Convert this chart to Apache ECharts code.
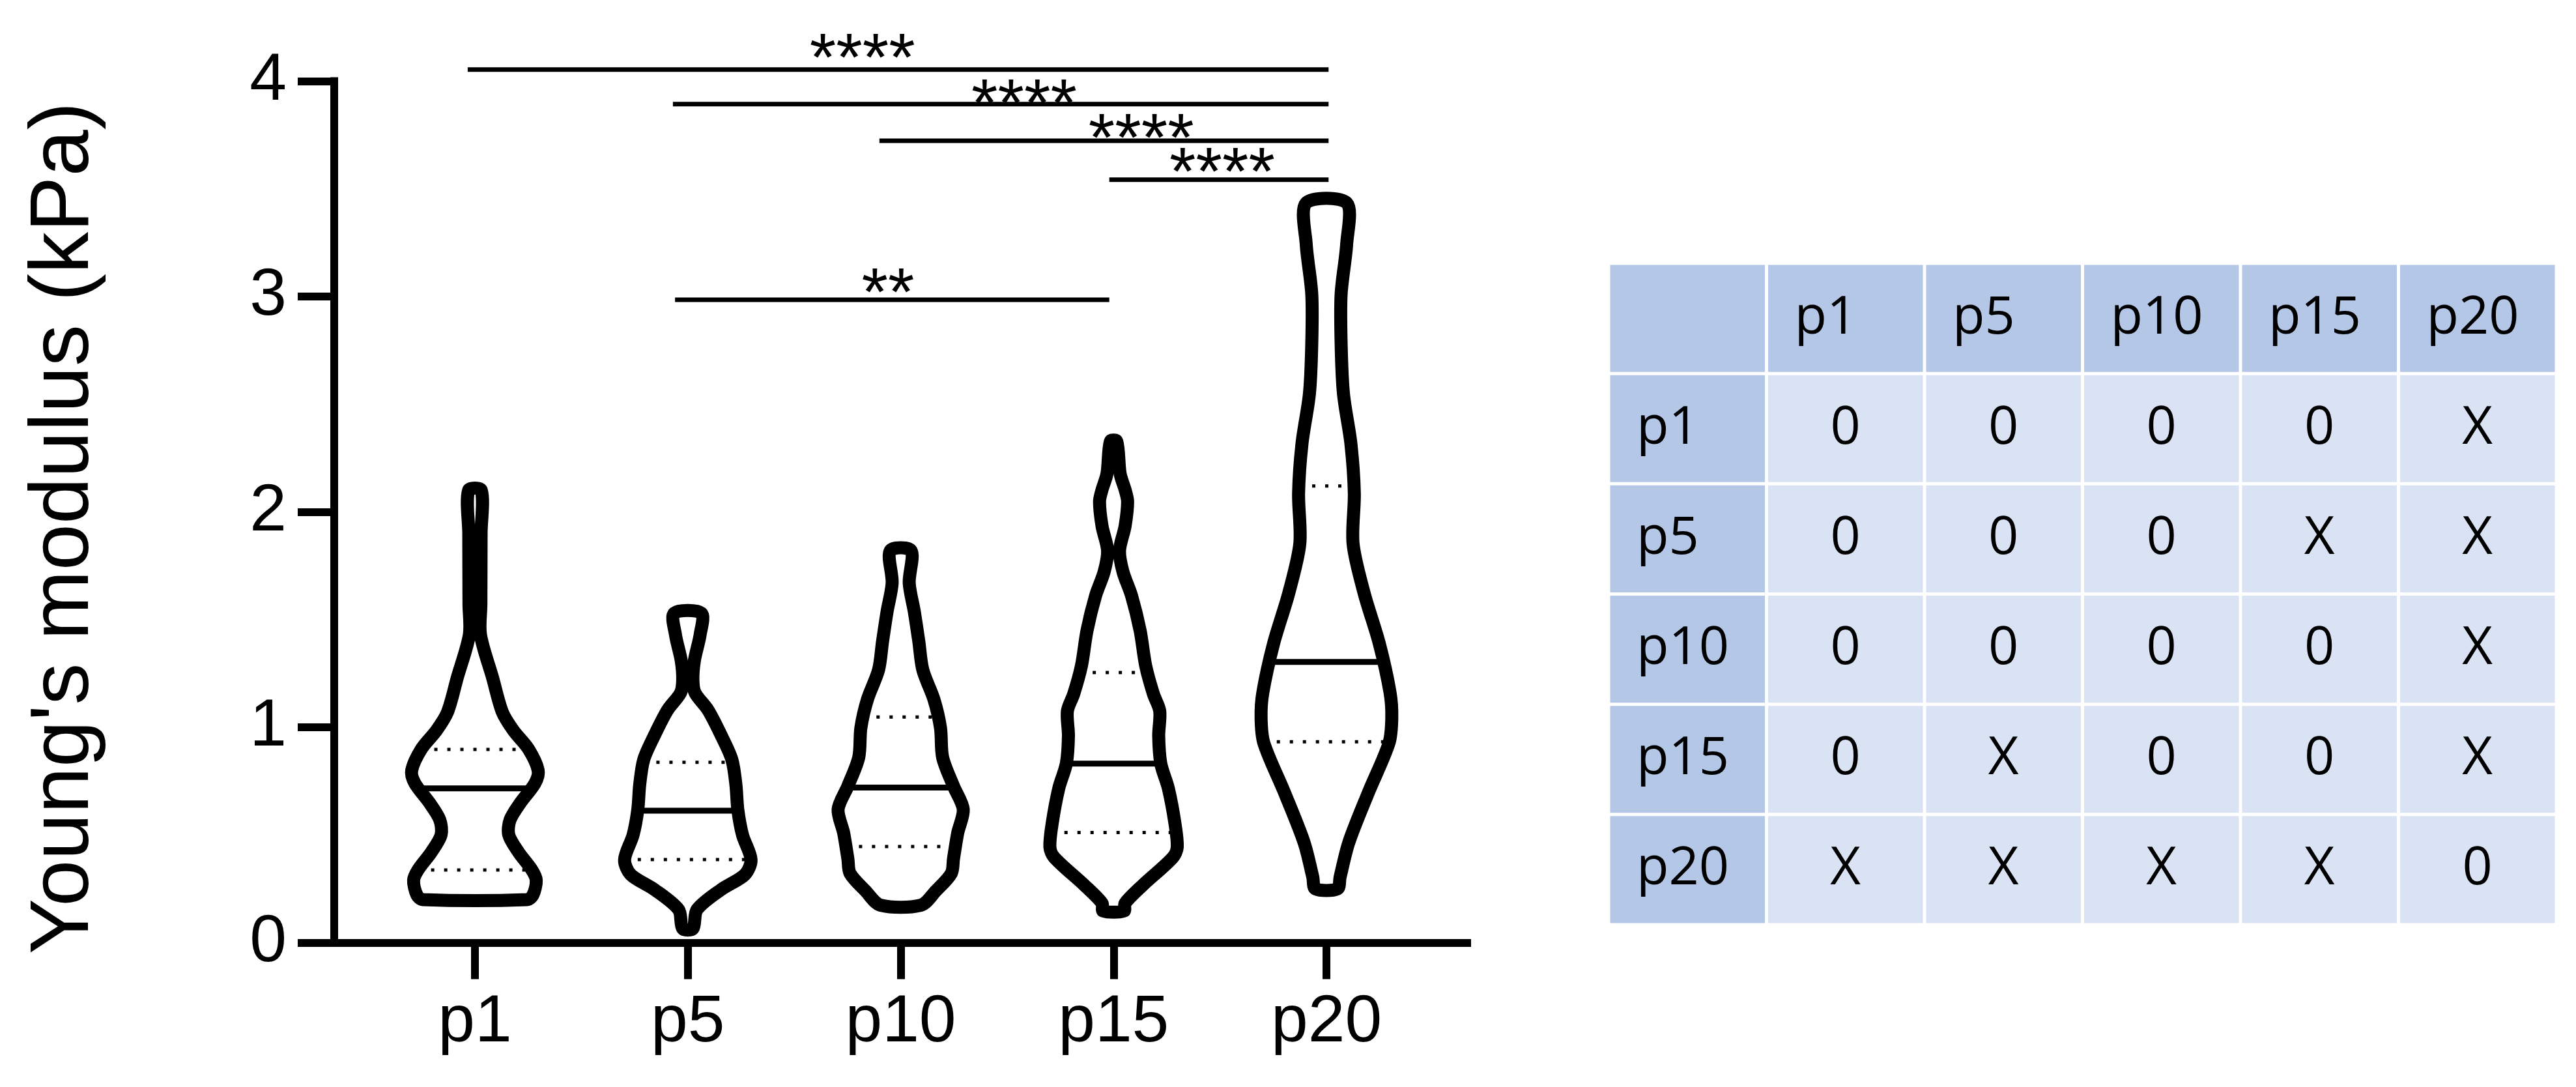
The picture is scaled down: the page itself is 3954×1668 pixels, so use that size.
<!DOCTYPE html>
<html>
<head>
<meta charset="utf-8">
<title>Young's modulus violins</title>
<script src="https://cdn.jsdelivr.net/npm/echarts@6.0.0/dist/echarts.min.js"></script>
<style>
  html, body { margin: 0; padding: 0; background: #fff; }
  #chart { width: 3954px; height: 1668px; }
</style>
</head>
<body>
<div id="chart"></div>
<script>
const categories = ['p1', 'p5', 'p10', 'p15', 'p20']

// violin outlines, top to bottom: [modulus (kPa), half width (category units)]
const violinP1 = [[2.10, 0.030], [1.90, 0.029], [1.57, 0.028], [1.43, 0.026], [1.23, 0.083], [1.07, 0.129], [0.985, 0.181], [0.90, 0.251], [0.80, 0.297], [0.74, 0.282], [0.65, 0.214], [0.57, 0.165], [0.50, 0.159], [0.42, 0.205], [0.34, 0.266], [0.29, 0.288], [0.22, 0.272], [0.20, 0.245]]
const violinP5 = [[1.53, 0.064], [1.43, 0.058], [1.31, 0.031], [1.22, 0.024], [1.16, 0.034], [1.08, 0.095], [0.964, 0.156], [0.85, 0.207], [0.733, 0.226], [0.617, 0.235], [0.50, 0.257], [0.385, 0.297], [0.316, 0.268], [0.246, 0.156], [0.153, 0.043], [0.065, 0.024]]
const violinP10 = [[1.82, 0.049], [1.67, 0.040], [1.537, 0.064], [1.40, 0.085], [1.266, 0.104], [1.13, 0.156], [0.997, 0.187], [0.86, 0.197], [0.727, 0.248], [0.619, 0.294], [0.51, 0.268], [0.389, 0.248], [0.322, 0.238], [0.24, 0.165], [0.174, 0.095]]
const violinP15 = [[2.328, 0.015], [2.177, 0.031], [2.10, 0.055], [2.047, 0.066], [1.933, 0.054], [1.82, 0.028], [1.723, 0.044], [1.609, 0.085], [1.448, 0.125], [1.285, 0.151], [1.155, 0.187], [1.075, 0.217], [0.96, 0.212], [0.831, 0.222], [0.718, 0.257], [0.556, 0.288], [0.443, 0.299], [0.395, 0.278], [0.265, 0.135], [0.183, 0.054], [0.147, 0.049]]
const violinP20 = [[3.435, 0.095], [3.243, 0.095], [3.012, 0.069], [2.78, 0.069], [2.548, 0.080], [2.316, 0.115], [2.085, 0.131], [1.853, 0.125], [1.623, 0.177], [1.39, 0.248], [1.16, 0.299], [1.043, 0.307], [0.927, 0.294], [0.697, 0.197], [0.465, 0.105], [0.304, 0.064], [0.25, 0.052]]
const violins = [violinP1, violinP5, violinP10, violinP15, violinP20]

const medians = [0.716, 0.613, 0.72, 0.831, 1.303]
const quartile1 = [0.337, 0.386, 0.446, 0.511, 0.933]
const quartile3 = [0.897, 0.837, 1.048, 1.254, 2.12]

// significance brackets
const sigLabels = ['****', '****', '****', '****', '**']
const sigFrom = [-0.034, 0.93, 1.90, 2.98, 0.94]
const sigTo = [4.01, 4.01, 4.01, 4.01, 2.98]
const sigY = [4.054, 3.893, 3.723, 3.542, 2.985]
const sigTextX = [1.82, 2.58, 3.13, 3.51, 1.94]
const sigTextY = [4.158, 3.947, 3.787, 3.629, 3.068]

// comparison table
const tableHeader = ['p1', 'p5', 'p10', 'p15', 'p20']
const tableValues = [
  ['0', '0', '0', '0', 'X'],
  ['0', '0', '0', 'X', 'X'],
  ['0', '0', '0', '0', 'X'],
  ['0', 'X', '0', '0', 'X'],
  ['X', 'X', 'X', 'X', '0']
]

const FONT = "'Liberation Sans', Arial, sans-serif"
const TABLE_FONT = "'Open Sans', sans-serif"

function widthAt(profile, v) {
  for (let k = 0; k < profile.length - 1; k++) {
    const [v0, w0] = profile[k]
    const [v1, w1] = profile[k + 1]
    if (v <= v0 && v >= v1) return w0 + (w1 - w0) * (v - v0) / (v1 - v0)
  }
  return 0
}

function renderViolin(params, api) {
  const i = api.value(0)
  const prof = violins[i]
  const right = prof.map(p => api.coord([i + p[1], p[0]]))
  const left = prof.slice().reverse().map(p => api.coord([i - p[1], p[0]]))
  const hline = (v, style) => {
    const w = widthAt(prof, v)
    const a = api.coord([i - w, v])
    const b = api.coord([i + w, v])
    return { type: 'line', shape: { x1: a[0], y1: a[1], x2: b[0], y2: b[1] }, style }
  }
  const dotted = { stroke: '#000', lineWidth: 5, lineDash: [5, 15] }
  return {
    type: 'group',
    children: [
      hline(quartile1[i], dotted),
      hline(quartile3[i], dotted),
      hline(medians[i], { stroke: '#000', lineWidth: 9 }),
      {
        type: 'polygon',
        shape: { points: right.concat(left), smooth: 0.3 },
        style: { fill: 'none', stroke: '#000', lineWidth: 20, lineJoin: 'round' }
      }
    ]
  }
}

function renderSig(params, api) {
  const i = params.dataIndex
  const a = api.coord([sigFrom[i], sigY[i]])
  const b = api.coord([sigTo[i], sigY[i]])
  const t = api.coord([sigTextX[i], sigTextY[i]])
  return {
    type: 'group',
    children: [
      { type: 'line', shape: { x1: a[0], y1: a[1], x2: b[0], y2: b[1] }, style: { stroke: '#000', lineWidth: 7 } },
      {
        type: 'text',
        style: {
          text: sigLabels[i], x: t[0], y: t[1] + 23,
          align: 'center', verticalAlign: 'middle',
          fontSize: 104, fontFamily: FONT, fill: '#000'
        }
      }
    ]
  }
}

function renderCell(params, api) {
  const col = api.value(0)
  const row = api.value(1)
  const c = api.coord([col, row])
  const s = api.size([1, 1])
  const x0 = c[0] - s[0] / 2
  const y0 = c[1] - s[1] / 2
  const isHeader = row === 0 || col === 0
  let text = ''
  if (row === 0 && col > 0) text = tableHeader[col - 1]
  else if (col === 0 && row > 0) text = tableHeader[row - 1]
  else if (row > 0 && col > 0) text = tableValues[row - 1][col - 1]
  return {
    type: 'group',
    children: [
      {
        type: 'rect',
        shape: { x: x0 + 2.5, y: y0 + 2.5, width: s[0] - 5, height: s[1] - 5 },
        style: { fill: isHeader ? '#b4c7e7' : '#dae3f3' }
      },
      {
        type: 'text',
        style: {
          text, x: isHeader ? x0 + 43 : c[0], y: c[1],
          align: isHeader ? 'left' : 'center', verticalAlign: 'middle',
          fontSize: 81, fontFamily: TABLE_FONT, fill: '#000'
        }
      }
    ]
  }
}

const tableCells = []
for (let r = 0; r <= tableHeader.length; r++) {
  for (let c = 0; c <= tableHeader.length; c++) tableCells.push([c, r])
}

const chart = echarts.init(document.getElementById('chart'))

const axisLineStyle = { color: '#000', width: 12, cap: 'square' }
const tickIdx = categories.map((c, i) => i)

chart.setOption({
  backgroundColor: '#fff',
  animation: false,
  grid: [
    { left: 513, top: 124.5, width: 1739, height: 1322 },
    { left: 2469, top: 404, width: 1455, height: 1015 }
  ],
  xAxis: [
    {
      type: 'value',
      gridIndex: 0,
      min: -0.661,
      max: 4.661,
      splitLine: { show: false },
      axisLine: { onZero: false, lineStyle: axisLineStyle },
      axisTick: { customValues: tickIdx, length: 56, lineStyle: { color: '#000', width: 12 } },
      axisLabel: {
        customValues: tickIdx,
        formatter: v => categories[v],
        fontSize: 102, fontFamily: FONT, color: '#000', margin: 72
      }
    },
    {
      type: 'category',
      gridIndex: 1,
      data: ['', ...tableHeader],
      show: false
    }
  ],
  yAxis: [
    {
      type: 'value',
      gridIndex: 0,
      min: 0,
      max: 4,
      interval: 1,
      splitLine: { show: false },
      axisLine: { show: true, onZero: false, lineStyle: axisLineStyle },
      axisTick: { show: true, length: 56, lineStyle: { color: '#000', width: 12 } },
      axisLabel: { fontSize: 102, fontFamily: FONT, color: '#000', margin: 73 },
      name: "Young's modulus (kPa)",
      nameLocation: 'middle',
      nameGap: 413,
      nameTextStyle: {
        fontSize: 128, fontFamily: FONT, color: '#000',
        align: 'center', verticalAlign: 'middle', padding: [0, 50, 0, 0]
      }
    },
    {
      type: 'category',
      gridIndex: 1,
      data: ['', ...tableHeader],
      inverse: true,
      show: false
    }
  ],
  series: [
    {
      type: 'custom',
      name: 'violins',
      xAxisIndex: 0,
      yAxisIndex: 0,
      clip: false,
      data: categories.map((c, i) => [i, medians[i]]),
      renderItem: renderViolin
    },
    {
      type: 'custom',
      name: 'significance',
      xAxisIndex: 0,
      yAxisIndex: 0,
      clip: false,
      data: sigLabels.map((s, i) => [sigFrom[i], sigY[i]]),
      renderItem: renderSig
    },
    {
      type: 'custom',
      name: 'table',
      xAxisIndex: 1,
      yAxisIndex: 1,
      data: tableCells,
      renderItem: renderCell
    }
  ]
})

window.addEventListener('resize', () => chart.resize())
</script>
</body>
</html>
